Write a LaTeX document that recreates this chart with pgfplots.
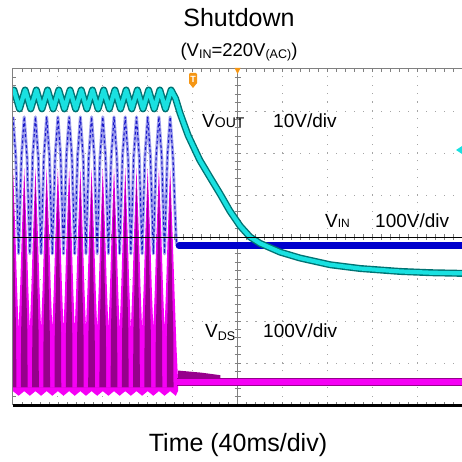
\documentclass[border=0pt]{standalone}
\usepackage{fontspec}
\setmainfont{Liberation Sans}
\usepackage{pgfplots}
\pgfplotsset{compat=1.18}
\definecolor{magB}{RGB}{245,0,245}
\definecolor{purD}{RGB}{150,0,140}
\definecolor{cyB}{RGB}{25,225,225}
\definecolor{tealE}{RGB}{0,115,115}
\definecolor{blD}{RGB}{0,0,205}
\definecolor{blDash}{RGB}{25,25,200}
\definecolor{blL}{RGB}{160,160,238}
\definecolor{gridc}{RGB}{165,165,165}
\definecolor{trig}{RGB}{245,150,20}
\begin{document}
\begin{tikzpicture}
% ---------- grid (scope coordinates: 1pt = 1px, axis box 449 x 336) ----------
\foreach \i in {1,2,3,4,6,7,8,9}
  \draw[gridc, line width=0.9pt, dash pattern=on 1.1pt off 7.3pt] (\i*44.9pt,0) -- (\i*44.9pt,336pt);
\foreach \j in {1,2,3,5,6,7}
  \draw[gridc, line width=0.9pt, dash pattern=on 1.1pt off 7.88pt] (0,\j*42pt) -- (449pt,\j*42pt);
% centre vertical line with ticks
\draw[gray, line width=0.9pt] (224.5pt,0) -- (224.5pt,336pt);
\foreach \k in {1,...,39}
  \draw[gray, line width=0.7pt] (221.5pt,\k*8.4pt) -- (227.5pt,\k*8.4pt);
% ticks on centre horizontal line
\foreach \k in {1,...,49}
  \draw[gray, line width=0.7pt] (\k*8.98pt,165pt) -- (\k*8.98pt,171pt);
% frame ticks
\foreach \k in {1,...,39}
  \draw[gray, line width=0.7pt] (0,\k*8.4pt) -- (3pt,\k*8.4pt);
\foreach \k in {1,...,49}
  {\draw[gray, line width=0.7pt] (\k*8.98pt,336pt) -- (\k*8.98pt,333pt);
   \draw[gray, line width=0.7pt] (\k*8.98pt,0) -- (\k*8.98pt,3pt);}

\begin{axis}[at={(0pt,0pt)}, anchor=south west, width=449pt, height=336pt,
  scale only axis, xmin=0, xmax=10, ymin=0, ymax=8, hide axis]
% V_DS outer envelope (bright magenta)
\addplot[draw=none, fill=magB] coordinates {
(0,0.33) (0,5.64)
(0.056,4.0) (0.09,2.8) (0.125,1.8) (0.16,2.8) (0.194,4.0) (0.25,5.64)
(0.306,4.0) (0.34,2.8) (0.375,1.8) (0.41,2.8) (0.444,4.0) (0.5,5.64)
(0.556,4.0) (0.59,2.8) (0.625,1.8) (0.66,2.8) (0.694,4.0) (0.75,5.64)
(0.806,4.0) (0.84,2.8) (0.875,1.8) (0.91,2.8) (0.944,4.0) (1,5.64)
(1.056,4.0) (1.09,2.8) (1.125,1.8) (1.16,2.8) (1.194,4.0) (1.25,5.64)
(1.306,4.0) (1.34,2.8) (1.375,1.8) (1.41,2.8) (1.444,4.0) (1.5,5.64)
(1.556,4.0) (1.59,2.8) (1.625,1.8) (1.66,2.8) (1.694,4.0) (1.75,5.64)
(1.806,4.0) (1.84,2.8) (1.875,1.8) (1.91,2.8) (1.944,4.0) (2,5.64)
(2.056,4.0) (2.09,2.8) (2.125,1.8) (2.16,2.8) (2.194,4.0) (2.25,5.64)
(2.306,4.0) (2.34,2.8) (2.375,1.8) (2.41,2.8) (2.444,4.0) (2.5,5.64)
(2.556,4.0) (2.59,2.8) (2.625,1.8) (2.66,2.8) (2.694,4.0) (2.75,5.64)
(2.806,4.0) (2.84,2.8) (2.875,1.8) (2.91,2.8) (2.944,4.0) (3,5.64)
(3.056,4.0) (3.09,2.8) (3.125,1.8) (3.16,2.8) (3.194,4.0) (3.25,5.64)
(3.306,4.0) (3.34,2.8) (3.375,1.8) (3.41,2.8) (3.444,4.0) (3.5,5.64)
(3.556,4.0) (3.6,2.6) (3.64,1.4) (3.675,0.6)
(3.675,0.33) (3.625,0.22) (3.5,0.33) (3.375,0.22) (3.25,0.33) (3.125,0.22)
(3,0.33) (2.875,0.22) (2.75,0.33) (2.625,0.22) (2.5,0.33) (2.375,0.22)
(2.25,0.33) (2.125,0.22) (2,0.33) (1.875,0.22) (1.75,0.33) (1.625,0.22)
(1.5,0.33) (1.375,0.22) (1.25,0.33) (1.125,0.22) (1,0.33) (0.875,0.22)
(0.75,0.33) (0.625,0.22) (0.5,0.33) (0.375,0.22) (0.25,0.33) (0.125,0.22)
} -- cycle;
% V_DS dense interior (dark purple)
\addplot[draw=none, fill=purD] coordinates {
(-0.075,0.42)(-0.07,1.7)(-0.045,2.8)(-0.025,4)(0,5.45)(0.025,4)(0.045,2.8)(0.07,1.7)(0.075,0.42)
(0.175,0.42)(0.18,1.7)(0.205,2.8)(0.225,4)(0.25,5.45)(0.275,4)(0.295,2.8)(0.32,1.7)(0.325,0.42)
(0.425,0.42)(0.43,1.7)(0.455,2.8)(0.475,4)(0.5,5.45)(0.525,4)(0.545,2.8)(0.57,1.7)(0.575,0.42)
(0.675,0.42)(0.68,1.7)(0.705,2.8)(0.725,4)(0.75,5.45)(0.775,4)(0.795,2.8)(0.82,1.7)(0.825,0.42)
(0.925,0.42)(0.93,1.7)(0.955,2.8)(0.975,4)(1,5.45)(1.025,4)(1.045,2.8)(1.07,1.7)(1.075,0.42)
(1.175,0.42)(1.18,1.7)(1.205,2.8)(1.225,4)(1.25,5.45)(1.275,4)(1.295,2.8)(1.32,1.7)(1.325,0.42)
(1.425,0.42)(1.43,1.7)(1.455,2.8)(1.475,4)(1.5,5.45)(1.525,4)(1.545,2.8)(1.57,1.7)(1.575,0.42)
(1.675,0.42)(1.68,1.7)(1.705,2.8)(1.725,4)(1.75,5.45)(1.775,4)(1.795,2.8)(1.82,1.7)(1.825,0.42)
(1.925,0.42)(1.93,1.7)(1.955,2.8)(1.975,4)(2,5.45)(2.025,4)(2.045,2.8)(2.07,1.7)(2.075,0.42)
(2.175,0.42)(2.18,1.7)(2.205,2.8)(2.225,4)(2.25,5.45)(2.275,4)(2.295,2.8)(2.32,1.7)(2.325,0.42)
(2.425,0.42)(2.43,1.7)(2.455,2.8)(2.475,4)(2.5,5.45)(2.525,4)(2.545,2.8)(2.57,1.7)(2.575,0.42)
(2.675,0.42)(2.68,1.7)(2.705,2.8)(2.725,4)(2.75,5.45)(2.775,4)(2.795,2.8)(2.82,1.7)(2.825,0.42)
(2.925,0.42)(2.93,1.7)(2.955,2.8)(2.975,4)(3,5.45)(3.025,4)(3.045,2.8)(3.07,1.7)(3.075,0.42)
(3.175,0.42)(3.18,1.7)(3.205,2.8)(3.225,4)(3.25,5.45)(3.275,4)(3.295,2.8)(3.32,1.7)(3.325,0.42)
(3.425,0.42)(3.43,1.7)(3.455,2.8)(3.475,4)(3.5,5.45)(3.525,4)(3.545,2.8)(3.57,1.7)(3.575,0.42)
} -- cycle;
% V_DS after shutdown
\addplot[draw=none, fill=purD] coordinates {
(3.68,0.58) (3.68,0.82) (4.2,0.77) (4.62,0.71) (4.62,0.58)} -- cycle;
\addplot[purD, line width=8pt] coordinates {(3.66,0.55) (10.3,0.55)};
\addplot[magB, line width=6pt] coordinates {(3.66,0.55) (10.3,0.55)};
% V_IN before shutdown
\addplot[blL, line width=3pt, line join=round] coordinates {
(0,6.86)(0.0625,5.9)(0.125,3.6)(0.1875,5.9)
(0.25,6.86)(0.3125,5.9)(0.375,3.6)(0.4375,5.9)
(0.5,6.86)(0.5625,5.9)(0.625,3.6)(0.6875,5.9)
(0.75,6.86)(0.8125,5.9)(0.875,3.6)(0.9375,5.9)
(1,6.86)(1.0625,5.9)(1.125,3.6)(1.1875,5.9)
(1.25,6.86)(1.3125,5.9)(1.375,3.6)(1.4375,5.9)
(1.5,6.86)(1.5625,5.9)(1.625,3.6)(1.6875,5.9)
(1.75,6.86)(1.8125,5.9)(1.875,3.6)(1.9375,5.9)
(2,6.86)(2.0625,5.9)(2.125,3.6)(2.1875,5.9)
(2.25,6.86)(2.3125,5.9)(2.375,3.6)(2.4375,5.9)
(2.5,6.86)(2.5625,5.9)(2.625,3.6)(2.6875,5.9)
(2.75,6.86)(2.8125,5.9)(2.875,3.6)(2.9375,5.9)
(3,6.86)(3.0625,5.9)(3.125,3.6)(3.1875,5.9)
(3.25,6.86)(3.3125,5.9)(3.375,3.6)(3.4375,5.9)
(3.5,6.86)(3.5625,5.9)(3.62,4.3)(3.64,3.85)(3.67,3.79)};
\addplot[blDash, line width=1.1pt, dash pattern=on 3pt off 2.5pt] coordinates {
(0,6.86)(0.0625,5.9)(0.125,3.6)(0.1875,5.9)
(0.25,6.86)(0.3125,5.9)(0.375,3.6)(0.4375,5.9)
(0.5,6.86)(0.5625,5.9)(0.625,3.6)(0.6875,5.9)
(0.75,6.86)(0.8125,5.9)(0.875,3.6)(0.9375,5.9)
(1,6.86)(1.0625,5.9)(1.125,3.6)(1.1875,5.9)
(1.25,6.86)(1.3125,5.9)(1.375,3.6)(1.4375,5.9)
(1.5,6.86)(1.5625,5.9)(1.625,3.6)(1.6875,5.9)
(1.75,6.86)(1.8125,5.9)(1.875,3.6)(1.9375,5.9)
(2,6.86)(2.0625,5.9)(2.125,3.6)(2.1875,5.9)
(2.25,6.86)(2.3125,5.9)(2.375,3.6)(2.4375,5.9)
(2.5,6.86)(2.5625,5.9)(2.625,3.6)(2.6875,5.9)
(2.75,6.86)(2.8125,5.9)(2.875,3.6)(2.9375,5.9)
(3,6.86)(3.0625,5.9)(3.125,3.6)(3.1875,5.9)
(3.25,6.86)(3.3125,5.9)(3.375,3.6)(3.4375,5.9)
(3.5,6.86)(3.5625,5.9)(3.62,4.3)(3.64,3.85)(3.67,3.79)};
% V_IN after shutdown
\addplot[blD, line width=7pt, line cap=round] coordinates {(3.7,3.79) (10.3,3.79)};
% V_OUT
\addplot[tealE, line width=7pt, line join=round] coordinates {
(0,7.45)(0.02,7.5)(0.145,7.05)(0.27,7.5)(0.395,7.05)(0.52,7.5)(0.645,7.05)
(0.77,7.5)(0.895,7.05)(1.02,7.5)(1.145,7.05)(1.27,7.5)(1.395,7.05)(1.52,7.5)
(1.645,7.05)(1.77,7.5)(1.895,7.05)(2.02,7.5)(2.145,7.05)(2.27,7.5)(2.395,7.05)
(2.52,7.5)(2.645,7.05)(2.77,7.5)(2.895,7.05)(3.02,7.5)(3.145,7.05)(3.27,7.5)
(3.395,7.05)(3.52,7.5)(3.62,7.3)(3.72,6.95)(3.9,6.42)(4.16,5.83)(4.4,5.4)
(4.61,5.03)(4.83,4.62)(5.06,4.26)(5.28,4.0)(5.5,3.85)(5.95,3.64)(6.39,3.5)
(7.06,3.34)(7.73,3.25)(8.62,3.18)(9.3,3.15)(10.2,3.13)};
\addplot[cyB, line width=4.2pt, line join=round] coordinates {
(0,7.45)(0.02,7.5)(0.145,7.05)(0.27,7.5)(0.395,7.05)(0.52,7.5)(0.645,7.05)
(0.77,7.5)(0.895,7.05)(1.02,7.5)(1.145,7.05)(1.27,7.5)(1.395,7.05)(1.52,7.5)
(1.645,7.05)(1.77,7.5)(1.895,7.05)(2.02,7.5)(2.145,7.05)(2.27,7.5)(2.395,7.05)
(2.52,7.5)(2.645,7.05)(2.77,7.5)(2.895,7.05)(3.02,7.5)(3.145,7.05)(3.27,7.5)
(3.395,7.05)(3.52,7.5)(3.62,7.3)(3.72,6.95)(3.9,6.42)(4.16,5.83)(4.4,5.4)
(4.61,5.03)(4.83,4.62)(5.06,4.26)(5.28,4.0)(5.5,3.85)(5.95,3.64)(6.39,3.5)
(7.06,3.34)(7.73,3.25)(8.62,3.18)(9.3,3.15)(10.2,3.13)};
\end{axis}
% centre horizontal reference line and frame
\draw[black, line width=0.9pt] (0,168pt) -- (449pt,168pt);
\draw[gray, line width=1pt] (0,0) -- (0,336pt) -- (449pt,336pt);
\draw[black, line width=2.6pt] (0,-0.5pt) -- (449pt,-0.5pt);
% markers
\fill[trig] (221.5pt,337pt) -- (227.5pt,337pt) -- (224.5pt,331pt) -- cycle;
\fill[trig, rounded corners=1.2pt] (176pt,332pt) rectangle (184pt,321pt);
\fill[trig] (176pt,322pt) -- (184pt,322pt) -- (180pt,317pt) -- cycle;
\node[text=white, inner sep=0pt, font=\fontsize{9}{9}\selectfont\bfseries] at (180pt,326pt) {T};
\fill[cyB] (449pt,259pt) -- (443pt,255pt) -- (449pt,251pt) -- cycle;
% channel labels
\node[anchor=base west, inner sep=0pt] at (189pt,277pt)
  {\fontsize{19}{22}\selectfont V\fontsize{14}{16}\selectfont OUT};
\node[anchor=base west, inner sep=0pt] at (260pt,277pt)
  {\fontsize{19}{22}\selectfont 10V/div};
\node[anchor=base west, inner sep=0pt] at (312pt,178pt)
  {\fontsize{19}{22}\selectfont V\fontsize{12}{14}\selectfont IN};
\node[anchor=base west, inner sep=0pt] at (362pt,178pt)
  {\fontsize{19}{22}\selectfont 100V/div};
\node[anchor=base west, inner sep=0pt] at (192pt,68pt)
  {\fontsize{19}{22}\selectfont V\raisebox{-3pt}{\fontsize{12.5}{14}\selectfont DS}};
\node[anchor=base west, inner sep=0pt] at (250pt,68pt)
  {\fontsize{19}{22}\selectfont 100V/div};
% titles
\node[anchor=base, inner sep=0pt] at (226pt,378pt)
  {\fontsize{25}{28}\selectfont Shutdown};
\node[anchor=base, inner sep=0pt] at (226pt,348.5pt)
  {\fontsize{18.5}{20}\selectfont (V\raisebox{-2.5pt}{\fontsize{12.5}{14}\selectfont IN}=220V\raisebox{-2.5pt}{\fontsize{12.5}{14}\selectfont (AC)})};
\node[anchor=base, inner sep=0pt] at (225pt,-46pt)
  {\fontsize{25}{28}\selectfont Time (40ms/div)};
\pgfresetboundingbox
\path[use as bounding box] (-13pt,-56pt) rectangle (449pt,405pt);
\end{tikzpicture}
\end{document}
